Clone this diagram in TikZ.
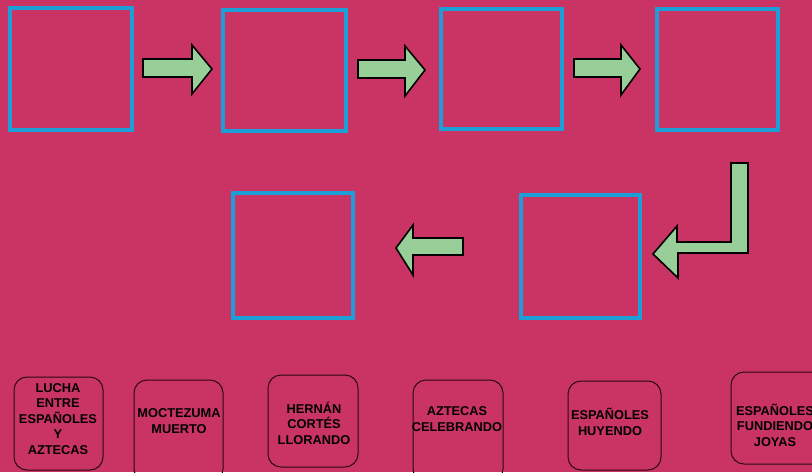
\documentclass[tikz,border=0pt]{standalone}
\usepackage{fontspec}
\setmainfont{Liberation Sans}
\begin{document}
\begin{tikzpicture}[x=1pt,y=-1pt,
  blockarrow/.style={draw=black,line width=1.6pt,fill=arrowgreen,line join=miter},
  frame/.style={draw=boxblue,line width=3.2pt},
  card/.style={draw=cardline,line width=1pt,rounded corners=13pt,inner sep=0pt},
  cardtext/.style={font=\fontsize{12.8}{15.5}\selectfont\bfseries,align=center,text=black,inner sep=0pt}]
\definecolor{bg}{RGB}{202,52,100}
\definecolor{boxblue}{RGB}{28,158,214}
\definecolor{arrowgreen}{RGB}{152,206,152}
\definecolor{cardline}{RGB}{40,8,20}
\fill[bg] (0,0) rectangle (812,472);
\useasboundingbox (0,0) rectangle (812,472);
% blue frames
\draw[frame] (10,8) rectangle (132,130) coordinate (b1);
\draw[frame] (223,10) rectangle (346,131) coordinate (b2);
\draw[frame] (441,9) rectangle (562,129) coordinate (b3);
\draw[frame] (657,9) rectangle (778,130) coordinate (b4);
\draw[frame] (521,195) rectangle (640,318) coordinate (b5);
\draw[frame] (233,193) rectangle (353,318) coordinate (b6);
% block arrows
\draw[blockarrow] (143,59) -- (192,59) -- (192,45) -- (212,69) -- (192,94) -- (192,77) -- (143,77) -- cycle;
\draw[blockarrow] (358,60) -- (405,60) -- (405,46) -- (425,70) -- (405,96) -- (405,78) -- (358,78) -- cycle;
\draw[blockarrow] (574,59) -- (621,59) -- (621,45) -- (640,69) -- (621,95) -- (621,77) -- (574,77) -- cycle;
\draw[blockarrow] (731,163) -- (748,163) -- (748,253) -- (678,253) -- (678,278) -- (653,254) -- (677,226) -- (677,242) -- (731,242) -- cycle;
\draw[blockarrow] (463,238) -- (463,255) -- (413,255) -- (413,275) -- (396,248) -- (413,225) -- (413,238) -- cycle;
% cards
\draw[card] (14,377) rectangle (103,470);
\node[cardtext] (t1) at (58,419) {LUCHA\\ENTRE\\ESPAÑOLES\\Y\\AZTECAS};
\draw[card] (134,380) rectangle (223,482);
\node[cardtext] (t2) at (179,421) {MOCTEZUMA\\MUERTO};
\draw[card] (268,375) rectangle (358,467);
\node[cardtext] (t3) at (314,423) {HERNÁN\\CORTÉS\\LLORANDO};
\draw[card] (413,380) rectangle (503,482);
\node[cardtext] (t4) at (457,419) {AZTECAS\\CELEBRANDO};
\draw[card] (568,381) rectangle (661,470);
\node[cardtext] (t5) at (610,422) {ESPAÑOLES\\HUYENDO};
\draw[card] (731,372) rectangle (830,464);
\node[cardtext] (t6) at (775,425) {ESPAÑOLES\\FUNDIENDO\\JOYAS};
\end{tikzpicture}
\end{document}
